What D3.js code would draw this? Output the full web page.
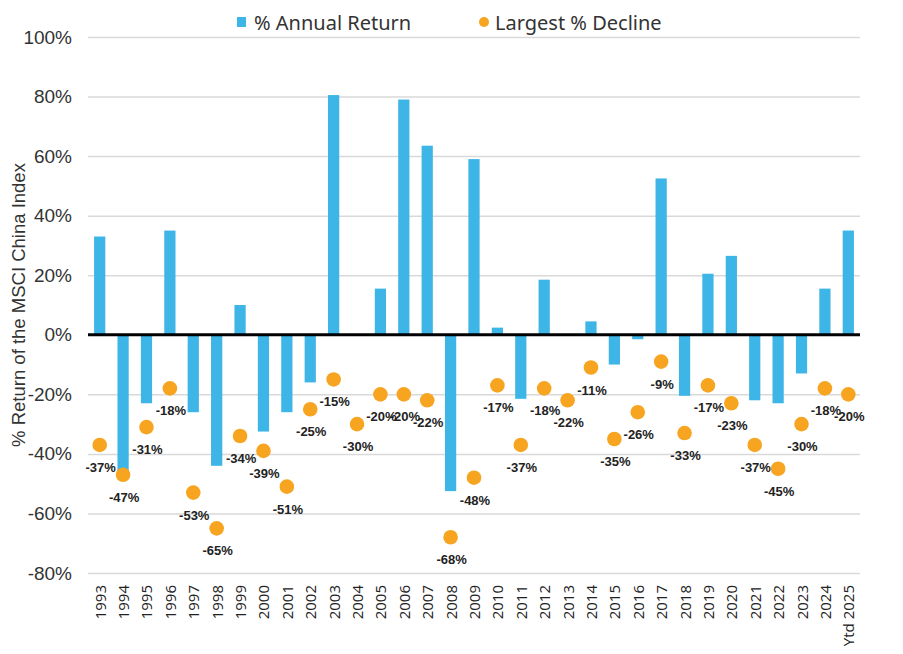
<!DOCTYPE html>
<html>
<head>
<meta charset="utf-8">
<script src="https://cdn.jsdelivr.net/npm/d3@7"></script>
<style>
  body { margin: 0; background: #fff; }
  svg { display: block; }
</style>
</head>
<body>
<div id="chart"></div>
<script>
// categories
const years = ['1993','1994','1995','1996','1997','1998','1999','2000','2001','2002',
  '2003','2004','2005','2006','2007','2008','2009','2010','2011','2012','2013','2014',
  '2015','2016','2017','2018','2019','2020','2021','2022','2023','2024','Ytd 2025'];

// % annual return (bars)
const annualReturn = [33, -46, -23, 35, -26, -44, 10, -32.5, -26, -16,
  80.5, -0.3, 15.5, 79, 63.5, -52.5, 59, 2.4, -21.5, 18.5, 0.3, 4.5,
  -10, -1.5, 52.5, -20.5, 20.5, 26.5, -22, -23, -13, 15.5, 35];

// largest % decline (dots)
const largestDecline = [-37, -47, -31, -18, -53, -65, -34, -39, -51, -25,
  -15, -30, -20, -20, -22, -68, -48, -17, -37, -18, -22, -11,
  -35, -26, -9, -33, -17, -23, -37, -45, -30, -18, -20];

const yTicks = [100, 80, 60, 40, 20, 0, -20, -40, -60, -80];

const width = 903, height = 654;
const margin = { top: 37, right: 43, bottom: 81, left: 88 };

const svg = d3.select('#chart').append('svg')
  .attr('width', width)
  .attr('height', height);

const x = d3.scaleBand()
  .domain(years)
  .range([margin.left, width - margin.right])
  .paddingInner(0.52)
  .paddingOuter(0.26);

const y = d3.scaleLinear()
  .domain([-80, 100])
  .range([height - margin.bottom, margin.top]);

// gridlines + y labels
const yAxis = d3.axisLeft(y)
  .tickValues(yTicks)
  .tickSize(-(width - margin.left - margin.right))
  .tickPadding(16)
  .tickFormat(d => d + '%');

svg.append('g')
  .attr('transform', `translate(${margin.left},0)`)
  .call(yAxis)
  .call(g => g.select('.domain').remove())
  .call(g => g.selectAll('.tick line')
    .attr('stroke', '#d9d9d9')
    .attr('stroke-width', 1.5))
  .call(g => g.selectAll('.tick text')
    .attr('fill', '#333')
    .attr('font-family', 'Liberation Sans, Arial, sans-serif')
    .attr('font-size', '19px'));

// axis title
svg.append('text')
  .attr('transform', `translate(25,${(y(100) + y(-80)) / 2}) rotate(-90)`)
  .attr('text-anchor', 'middle')
  .attr('fill', '#333')
  .attr('font-family', 'Liberation Sans, Arial, sans-serif')
  .attr('font-size', '18.5px')
  .text('% Return of the MSCI China Index');

// bars
svg.append('g')
  .selectAll('rect')
  .data(years)
  .join('rect')
  .attr('x', d => x(d))
  .attr('width', x.bandwidth())
  .attr('y', (d, i) => y(Math.max(0, annualReturn[i])))
  .attr('height', (d, i) => Math.abs(y(annualReturn[i]) - y(0)))
  .attr('fill', '#3db5e6');

// zero line
svg.append('line')
  .attr('x1', margin.left)
  .attr('x2', width - margin.right)
  .attr('y1', y(0))
  .attr('y2', y(0))
  .attr('stroke', '#000')
  .attr('stroke-width', 3);

// dots
svg.append('g')
  .selectAll('circle')
  .data(years)
  .join('circle')
  .attr('cx', d => x(d) + x.bandwidth() / 2)
  .attr('cy', (d, i) => y(largestDecline[i]))
  .attr('r', 7.3)
  .attr('fill', '#f7a520');

// dot labels
svg.append('g')
  .selectAll('text')
  .data(years)
  .join('text')
  .attr('x', d => x(d) + x.bandwidth() / 2 + 1)
  .attr('y', (d, i) => y(largestDecline[i]) + 27)
  .attr('text-anchor', 'middle')
  .attr('fill', '#222')
  .attr('font-family', 'Liberation Sans, Arial, sans-serif')
  .attr('font-weight', 'bold')
  .attr('font-size', '13px')
  .text((d, i) => largestDecline[i] + '%');

// x labels
svg.append('g')
  .selectAll('text')
  .data(years)
  .join('text')
  .attr('transform', d => `translate(${x(d) + x.bandwidth() / 2 + 6},${height - margin.bottom + 12}) rotate(-90)`)
  .attr('text-anchor', 'end')
  .attr('fill', '#222')
  .attr('font-family', 'Open Sans, sans-serif')
  .attr('font-size', '15px')
  .text(d => d);

// legend
const legend = svg.append('g')
  .attr('font-family', 'Noto Sans, Open Sans, sans-serif')
  .attr('font-size', '20px')
  .attr('fill', '#333');

legend.append('rect')
  .attr('x', 237).attr('y', 17)
  .attr('width', 9).attr('height', 10)
  .attr('fill', '#3db5e6');
legend.append('text')
  .attr('x', 254).attr('y', 30)
  .text('% Annual Return');

legend.append('circle')
  .attr('cx', 484).attr('cy', 22)
  .attr('r', 5)
  .attr('fill', '#f7a520');
legend.append('text')
  .attr('x', 495).attr('y', 30)
  .text('Largest % Decline');
</script>
</body>
</html>
